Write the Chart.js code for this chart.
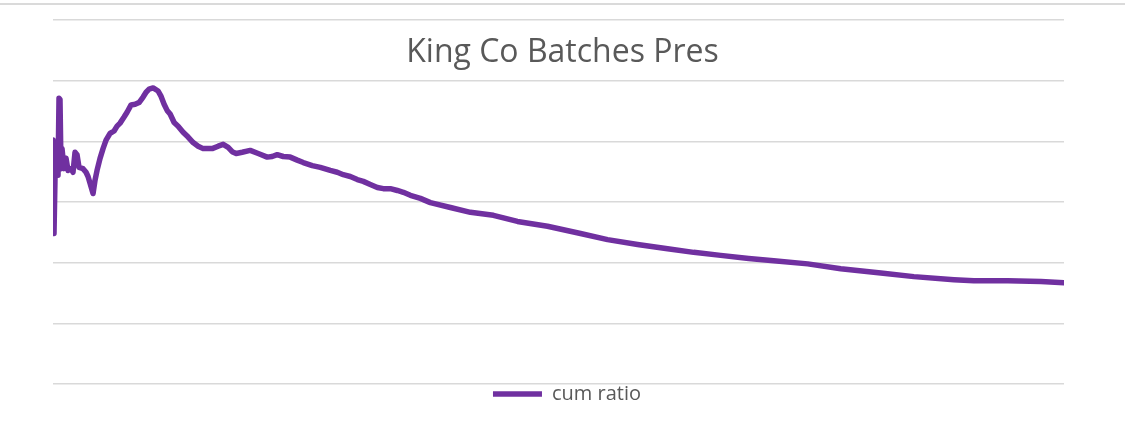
<!DOCTYPE html>
<html>
<head>
<meta charset="utf-8">
<script src="https://cdn.jsdelivr.net/npm/chart.js@4"></script>
<style>
  body { margin: 0; background: #fff; }
  #wrap { position: relative; width: 1125px; height: 426px; }
  #topline { position: absolute; left: 0; top: 3px; width: 1125px; height: 2px; background: #dadada; }
</style>
</head>
<body>
<div id="wrap">
  <div id="topline"></div>
  <canvas id="chart"></canvas>
</div>
<script>
const chartTitle = "King Co Batches Pres";
const seriesName = "cum ratio";

// batch number (x) and cumulative ratio (y)
const batches = [
  0, 1, 2, 3, 4, 5, 6, 7, 8, 9, 11, 13, 15, 18, 20, 22, 24, 26, 30, 33,
  35, 37, 40, 42, 44, 47, 50, 53, 57, 61, 64, 67, 71, 74, 78, 82, 86, 90, 93, 96,
  100, 105, 108, 111, 114, 117, 121, 125, 130, 135, 140, 145, 150, 155, 159, 165, 170, 175, 179, 183,
  189, 197, 205, 214, 219, 224, 230, 237, 244, 250, 259, 267, 277, 284, 290, 297, 304, 310, 317, 324,
  330, 337, 344, 350, 357, 367, 377, 397, 417, 440, 464, 494, 527, 554, 584, 614, 640, 667, 695, 720,
  754, 787, 827, 860, 900, 920, 954, 987, 1010
];
const cumRatio = [
  0.402, 0.248, 0.339, 0.369, 0.385, 0.344, 0.471, 0.469, 0.355, 0.388, 0.355, 0.372, 0.352, 0.355, 0.349, 0.382, 0.378, 0.357, 0.355, 0.349,
  0.342, 0.331, 0.314, 0.336, 0.352, 0.372, 0.388, 0.402, 0.413, 0.417, 0.425, 0.430, 0.440, 0.448, 0.460, 0.461, 0.464, 0.473, 0.481, 0.486,
  0.488, 0.483, 0.474, 0.461, 0.451, 0.445, 0.431, 0.425, 0.415, 0.407, 0.398, 0.392, 0.388, 0.388, 0.388, 0.392, 0.395, 0.390, 0.383, 0.380,
  0.382, 0.385, 0.380, 0.374, 0.375, 0.378, 0.375, 0.374, 0.369, 0.365, 0.360, 0.357, 0.352, 0.349, 0.345, 0.342, 0.337, 0.334, 0.329, 0.324,
  0.322, 0.322, 0.319, 0.316, 0.311, 0.306, 0.299, 0.291, 0.283, 0.278, 0.268, 0.260, 0.248, 0.238, 0.230, 0.223, 0.217, 0.212, 0.207, 0.203,
  0.198, 0.190, 0.183, 0.177, 0.172, 0.170, 0.170, 0.169, 0.167
];

const yMin = 0;
const yMax = 0.6;
const yStep = 0.1;

const points = batches.map((b, i) => ({ x: b, y: cumRatio[i] }));

// title sits over the plot like in excel, so draw it ourselves
const overlayTitle = {
    id: "overlayTitle",
    afterDraw(chart) {
        const ctx = chart.ctx;
        ctx.save();
        ctx.font = '32px "Open Sans"';
        ctx.fillStyle = "#595959";
        ctx.textAlign = "center";
        ctx.textBaseline = "alphabetic";
        ctx.fillText(chartTitle, chart.width / 2, 62);
        ctx.restore();
    }
};

new Chart(document.getElementById("chart"), {
    type: "line",
    data: {
        datasets: [{
            label: seriesName,
            data: points,
            borderColor: "#7030A0",
            backgroundColor: "#7030A0",
            borderWidth: 5.5,
            borderCapStyle: "round",
            borderJoinStyle: "round",
            pointRadius: 0,
            tension: 0,
            fill: false
        }]
    },
    options: {
        responsive: true,
        maintainAspectRatio: false,
        animation: false,
        layout: {
            padding: { left: 53, right: 44, top: 20, bottom: 12 }
        },
        plugins: {
            title: { display: false },
            tooltip: { enabled: false },
            legend: {
                position: "bottom",
                labels: {
                    usePointStyle: true,
                    pointStyle: "line",
                    pointStyleWidth: 49,
                    padding: 0,
                    color: "#595959",
                    font: { family: "Open Sans", size: 20 }
                }
            }
        },
        scales: {
            x: {
                type: "linear",
                min: batches[0],
                max: batches[batches.length - 1],
                display: false
            },
            y: {
                position: "right",
                min: yMin,
                max: yMax,
                ticks: { stepSize: yStep, display: false },
                grid: { color: "#d9d9d9", lineWidth: 1.5, drawTicks: false },
                border: { display: false },
                afterFit(scale) { scale.width = 17; }
            }
        }
    },
    plugins: [overlayTitle]
});
</script>
</body>
</html>
